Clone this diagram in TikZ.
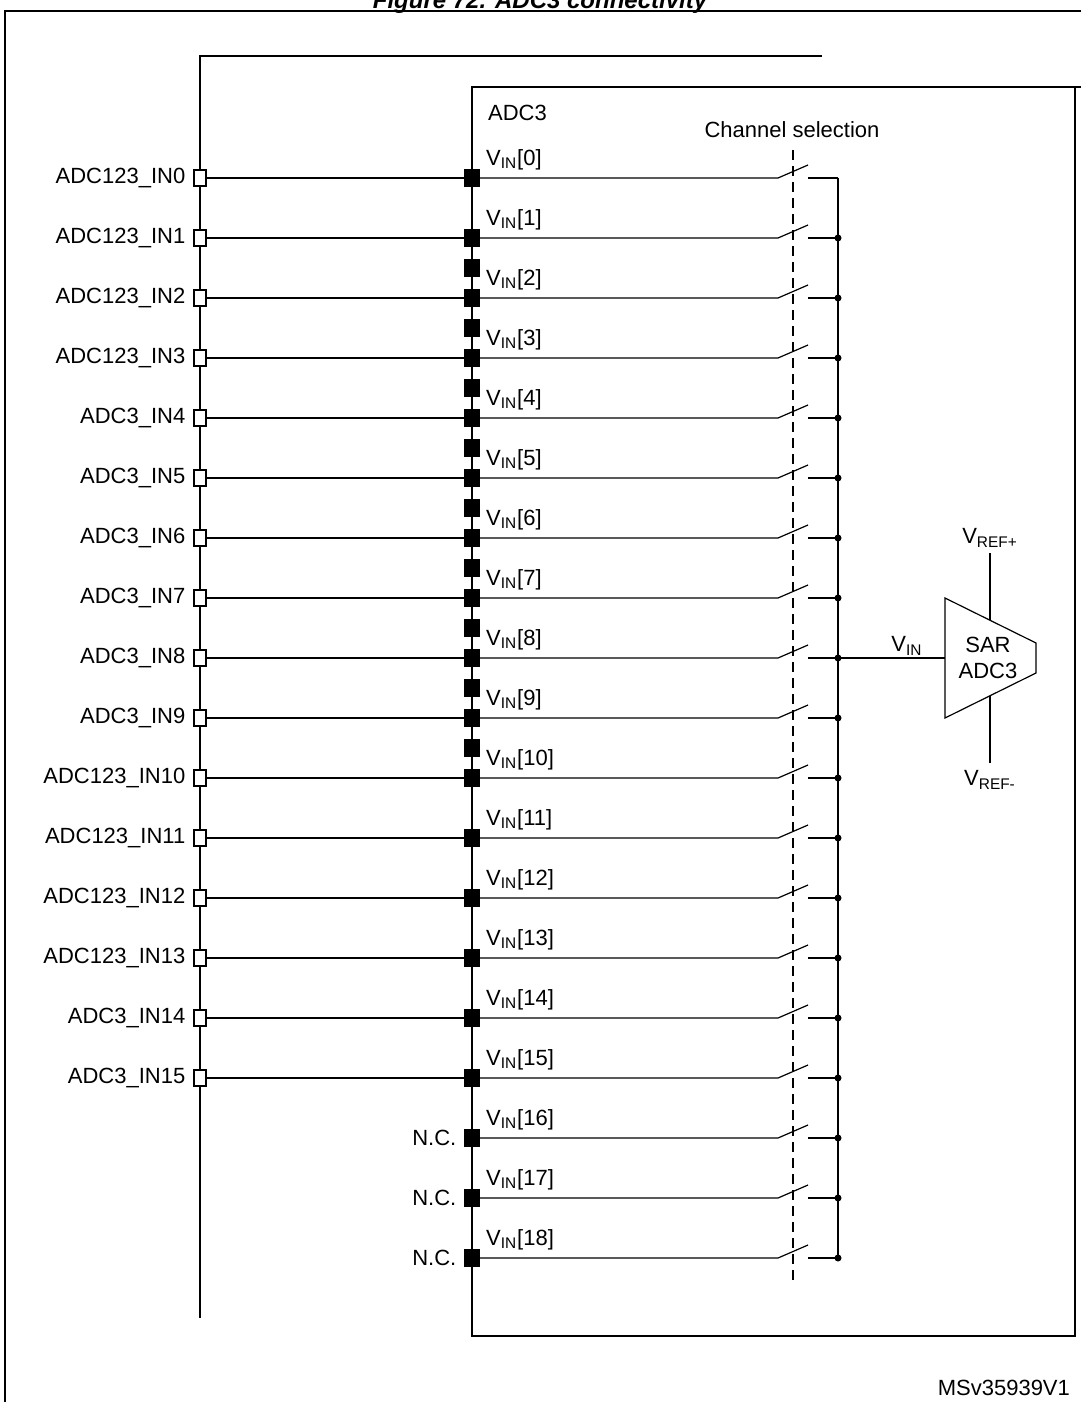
\documentclass[tikz,border=0pt]{standalone}
\usepackage{fontspec}
\setmainfont{Liberation Sans}
\tikzset{every picture/.style={line width=0.6pt}}
\tikzset{
  pin/.style={draw,fill=white,minimum width=6pt,minimum height=8pt,inner sep=0pt},
  pad/.style={draw,fill=black,minimum width=7pt,minimum height=8pt,inner sep=0pt},
  lbl/.style={inner sep=0.75pt,font=\fontsize{11}{13}\selectfont},
  jdot/.style={circle,fill=black,inner sep=0pt,minimum size=3.5pt}
}
\newcommand{\vin}[1]{V\textsubscript{IN}[#1]}
\begin{document}
\begin{tikzpicture}[x=0.5pt,y=0.5pt,yscale=-1,xscale=1]
\useasboundingbox (0,0) rectangle (1081,1402);
\clip (0,0) rectangle (1081,1402);

% Title (cut at top)
\node (title) [lbl,font=\bfseries\itshape\fontsize{12}{14}\selectfont] at (540,2) {Figure 72. ADC3 connectivity};

% Frames
\draw [line width=0.9pt] (5,1402) -- (5,11) -- (1081,11);
\draw [line width=0.9pt] (822,56) -- (200,56) -- (200,1318);
\draw [line width=0.9pt] (1081,87) -- (472,87) -- (472,1336) -- (1075,1336) -- (1075,87);

\node (adc) [lbl,anchor=west] at (486,113) {ADC3};
\node (chsel) [lbl] at (792,130) {Channel selection};
\node (code) [lbl,anchor=east] at (1072,1388) {MSv35939V1};

% Channel selection line and bus
\draw [dash pattern={on 5pt off 3pt}] (793,150) -- (793,1282);
\draw (838,178) -- (838,1258);

% Extra pads between rows 1..10
\foreach \i in {1,...,9}
  \node (xp\i) [pad] at (472,{238+(\i-1)*60+30}) {};

% Input channels
\foreach \i/\name in {0/ADC123\_IN0,1/ADC123\_IN1,2/ADC123\_IN2,3/ADC123\_IN3,
    4/ADC3\_IN4,5/ADC3\_IN5,6/ADC3\_IN6,7/ADC3\_IN7,8/ADC3\_IN8,9/ADC3\_IN9,
    10/ADC123\_IN10,11/ADC123\_IN11,12/ADC123\_IN12,13/ADC123\_IN13,
    14/ADC3\_IN14,15/ADC3\_IN15}{
  \pgfmathsetmacro{\y}{178+\i*60}
  \node (p\i) [pin] at (200,\y) {};
  \node (n\i) [lbl,anchor=east] at ([xshift=-3pt]p\i.west) {\name};
  \node (q\i) [pad] at (472,\y) {};
  \draw (p\i.east) -- (q\i.west);
}
% Not connected channels
\foreach \i in {16,17,18}{
  \pgfmathsetmacro{\y}{178+\i*60}
  \node (q\i) [pad] at (472,\y) {};
  \node (nc\i) [lbl,anchor=east] at ([xshift=-3pt]q\i.west) {N.C.};
}
% Switches
\foreach \i in {0,...,18}{
  \pgfmathsetmacro{\y}{178+\i*60}
  \node (v\i) [lbl,anchor=west] at (484,\y-18) {\vin{\i}};
  \coordinate (sa\i) at (778,\y);
  \coordinate (sb\i) at (808,\y-13);
  \coordinate (sc\i) at (808,\y);
  \coordinate (bus\i) at (838,\y);
  \draw (q\i.east) -- (sa\i) -- (sb\i);
  \draw (sc\i) -- (bus\i);
}
\foreach \i in {1,...,18}
  \node (d\i) [jdot] at (bus\i) {};

% SAR ADC
\coordinate (t1) at (945,598);
\coordinate (t2) at (1036,643);
\coordinate (t3) at (1036,673);
\coordinate (t4) at (945,718);
\draw (t1) -- (t2) -- (t3) -- (t4) -- cycle;
\node (sar) [lbl,align=center] at (988,658) {SAR\\ADC3};
\draw (bus8) -- (945,658);
\node (vinl) [lbl] at (907,646) {V\textsubscript{IN}};
\node (vrp) [lbl] at (990,538) {V\textsubscript{REF+}};
\node (vrm) [lbl] at (990,780) {V\textsubscript{REF-}};
\draw (990,553) -- (990,620);
\draw (990,696) -- (990,763);
\end{tikzpicture}
\end{document}
